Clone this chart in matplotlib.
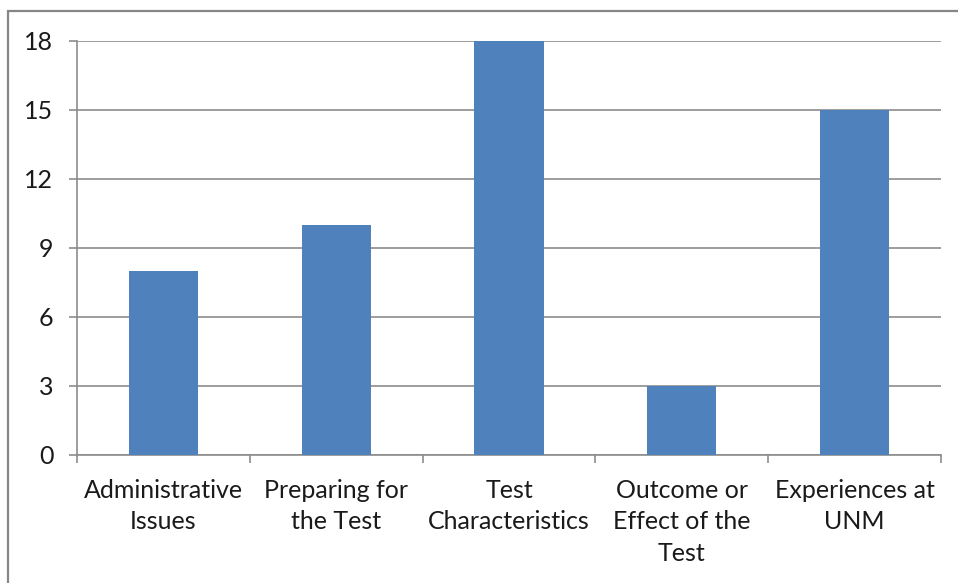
import matplotlib
matplotlib.use("Agg")
import matplotlib.pyplot as plt
from matplotlib.patches import Rectangle

categories = ["Administrative\nIssues", "Preparing for\nthe Test", "Test\nCharacteristics",
              "Outcome or\nEffect of the\nTest", "Experiences at\nUNM"]
values = [8, 10, 18, 3, 15]
yticks = [0, 3, 6, 9, 12, 15, 18]

W, H = 958, 583
plt.rcParams["font.family"] = ["Lato", "DejaVu Sans"]

fig = plt.figure(figsize=(W / 100, H / 100), dpi=100)
fig.patch.set_facecolor("white")

# chart-area frame (runs off the right and bottom edges)
frame = Rectangle((8 / W, -0.05), 1.1, 1 - 11 / H + 0.05, transform=fig.transFigure,
                  fill=False, edgecolor="#868686", linewidth=1.6, zorder=0)
fig.patches.append(frame)

ax = fig.add_axes([77 / W, 1 - 455 / H, (941 - 77) / W, (455 - 41) / H])
grid_c = "#8c8c8c"
x = list(range(len(values)))
ax.bar(x, values, width=0.4, color="#4F81BD", zorder=3)

ax.set_xlim(-0.5, len(values) - 0.5)
ax.set_ylim(0, 18)
ax.set_yticks(yticks)
ax.set_yticklabels([str(v) for v in yticks])
ax.yaxis.grid(True, color=grid_c, linewidth=1.2, zorder=0)
ax.set_axisbelow(True)

ax.set_xticks(x)
ax.set_xticklabels(categories, linespacing=1.45)
ax.set_xticks([i - 0.5 for i in range(len(values) + 1)], minor=True)
ax.tick_params(axis="x", which="major", length=0, pad=17, labelsize=18, colors="#1a1a1a")
ax.tick_params(axis="x", which="minor", length=6, width=1.2, color=grid_c, direction="out")
ax.tick_params(axis="y", length=6, width=1.2, color=grid_c, pad=11, labelsize=18,
               labelcolor="#1a1a1a")

for s in ["top", "right"]:
    ax.spines[s].set_visible(False)
for s in ["left", "bottom"]:
    ax.spines[s].set_color(grid_c)
    ax.spines[s].set_linewidth(1.2)

fig.savefig("out.png", dpi=100)
